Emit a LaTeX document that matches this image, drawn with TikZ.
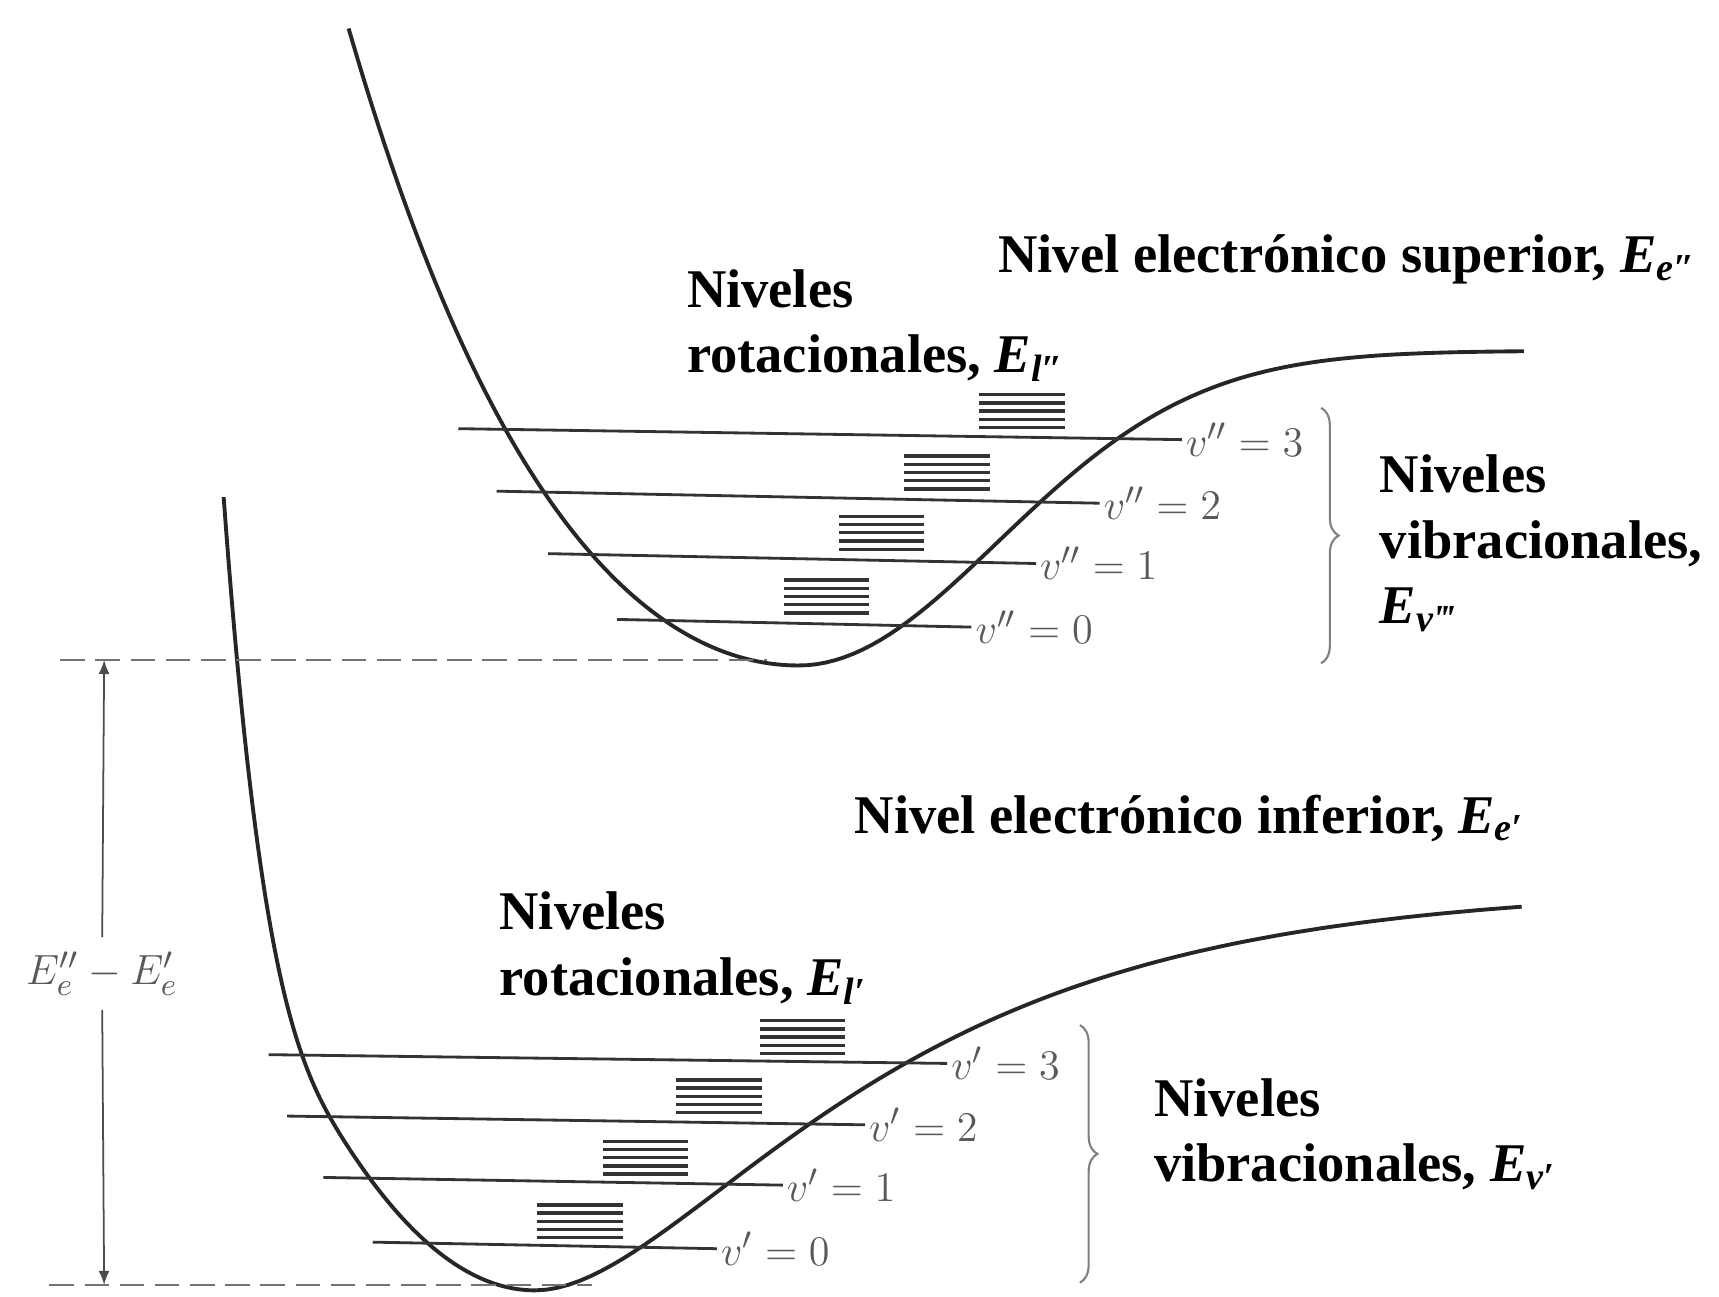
\documentclass[tikz,border=0pt]{standalone}
\usepackage{fontspec}
\setmainfont{Liberation Serif}
\usetikzlibrary{arrows.meta, positioning, decorations.pathreplacing}
\newcommand{\Esub}[1]{\textit{E}\textsubscript{\textit{#1}}}

\begin{document}
\begin{tikzpicture}[
  x=0.010963cm, y=-0.010963cm,
  lbl/.style={font=\fontsize{15.5}{18.7}\selectfont\bfseries, align=left, inner sep=0pt},
  vlab/.style={font=\fontsize{13}{15}\selectfont, text=black!65, inner sep=1pt},
  curve/.style={draw=black!85, line width=1.1pt},
  level/.style={draw=black!80, line width=0.8pt},
  rot/.style={draw=black!80, line width=0.95pt},
  dline/.style={draw=black!55, dash pattern=on 7pt off 3pt, line width=0.5pt},
  brc/.style={draw=black!50, line width=0.6pt, decorate, decoration={brace, amplitude=5pt}},
  arr/.style={draw=black!70, line width=0.5pt, -{Latex[length=1.4mm, width=1.1mm]}}
]
\useasboundingbox (0,0) rectangle (1568,1183);

\draw[curve] plot[domain=318:728, samples=90] (\x, {607-27*((728-\x)/100)^2-0.45*((728-\x)/100)^4})
  plot[domain=728:1390, samples=80] (\x, {607-287*(1-exp(-(((\x-728)/258)^2)))});
\draw[curve] plot[domain=204:488, samples=120] (\x, {1177-45*((488-\x)/100)^2-228*(max(318-\x,0.01)/100)^3.5})
  plot[domain=488:1388, samples=90] (\x, {1177-368*(1-exp(-0.0041*(\x-488)))^2});

\coordinate (u3s) at (418,391);
\coordinate (u2s) at (453,448);
\coordinate (u1s) at (500,505);
\coordinate (u0s) at (563,565);
\node[vlab, anchor=west] (u3) at (1078,401) {$v''=3$};
\node[vlab, anchor=west] (u2) at (1003,459) {$v''=2$};
\node[vlab, anchor=west] (u1) at (945,514) {$v''=1$};
\node[vlab, anchor=west] (u0) at (886,572) {$v''=0$};
\draw[level] (u3s) -- (u3.west);
\draw[level] (u2s) -- (u2.west);
\draw[level] (u1s) -- (u1.west);
\draw[level] (u0s) -- (u0.west);

\coordinate (l3s) at (245,962);
\coordinate (l2s) at (262,1018);
\coordinate (l1s) at (295,1074);
\coordinate (l0s) at (340,1133);
\node[vlab, anchor=west] (l3) at (864,970) {$v'=3$};
\node[vlab, anchor=west] (l2) at (789,1026) {$v'=2$};
\node[vlab, anchor=west] (l1) at (714,1081) {$v'=1$};
\node[vlab, anchor=west] (l0) at (654,1139) {$v'=0$};
\draw[level] (l3s) -- (l3.west);
\draw[level] (l2s) -- (l2.west);
\draw[level] (l1s) -- (l1.west);
\draw[level] (l0s) -- (l0.west);

\foreach \sx/\sy in {893/390, 825/446, 765/501, 715/559, 693/961, 617/1015, 550/1071, 490/1129}
  \foreach \k in {0,...,4}
    \draw[rot] (\sx,\sy-7.5*\k) -- ++(78,0);

\coordinate (bu1) at (1205,372);
\coordinate (bu2) at (1205,605);
\coordinate (bl1) at (985,935);
\coordinate (bl2) at (985,1170);
\draw[brc] (bu1) -- (bu2);
\draw[brc] (bl1) -- (bl2);

\coordinate (d1a) at (55,602);
\coordinate (d1b) at (700,602);
\coordinate (d2a) at (45,1172);
\coordinate (d2b) at (540,1172);
\draw[dline] (d1a) -- (d1b);
\draw[dline] (d2a) -- (d2b);
\node[vlab, font=\fontsize{12.5}{14}\selectfont, inner sep=4pt] (dE) at (93,888) {$E''_e-E'_e$};
\coordinate (dtop) at (95,602);
\coordinate (dbot) at (95,1172);
\draw[arr] (dE) -- (dtop);
\draw[arr] (dE) -- (dbot);

\node[lbl, anchor=base west] (sup) at (910,249) {Nivel electrónico superior, \Esub{e″}};
\node[lbl, anchor=north west] (rotsup) at (626,245) {Niveles\\rotacionales, \Esub{l″}};
\node[lbl, anchor=north west] (vibsup) at (1258,414) {Niveles\\vibracionales,\\\Esub{ν‴}};
\node[lbl, anchor=base west] (inf) at (779,760) {Nivel electrónico inferior, \Esub{e′}};
\node[lbl, anchor=north west] (rotinf) at (455,813) {Niveles\\rotacionales, \Esub{l′}};
\node[lbl, anchor=north west] (vibinf) at (1052,983) {Niveles\\vibracionales, \Esub{ν′}};
\end{tikzpicture}
\end{document}
